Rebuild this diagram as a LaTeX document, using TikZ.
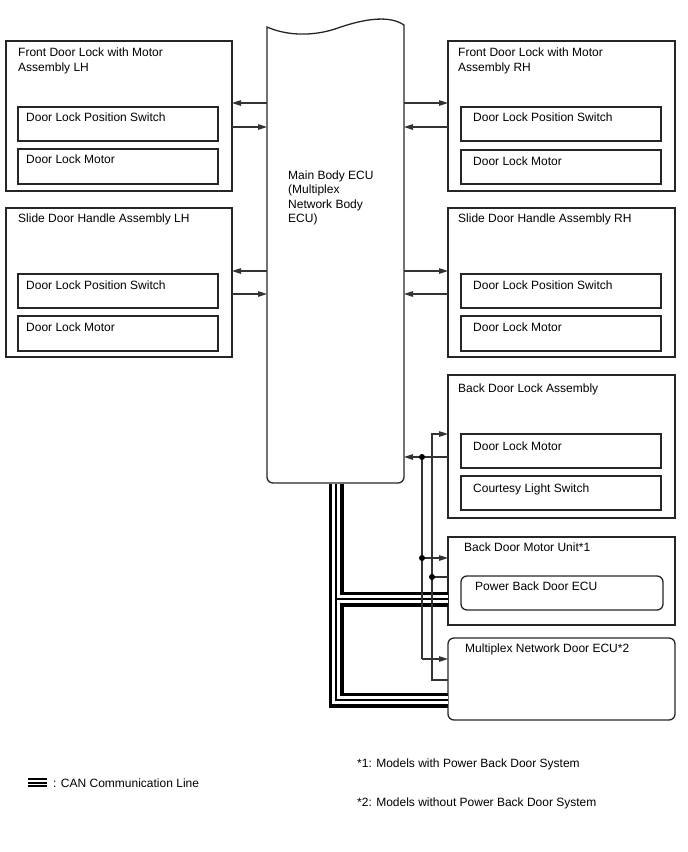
\documentclass[tikz,border=0pt]{standalone}
\usepackage{fontspec}
\setmainfont{Liberation Sans}
\usetikzlibrary{arrows.meta}
\begin{document}
\begin{tikzpicture}[x=1pt,y=-1pt,
  box/.style={draw=black!85, line width=1.3pt, anchor=north west, inner sep=0pt, outer sep=0pt},
  rbox/.style={box, rounded corners=6pt},
  lbl/.style={anchor=base west, inner sep=0pt, font=\fontsize{12}{14.5}\selectfont, align=left},
  sig/.style={draw=black!80, line width=1.1pt},
  arr/.style={sig, -{Triangle[length=9pt,width=5.5pt]}},
  ]
\useasboundingbox (0,0) rectangle (688,852);

% ---- boxes ----
\node[box, minimum width=226pt, minimum height=150pt] (fl) at (6,41) {};
\node[box, minimum width=200pt, minimum height=34pt] (fl1) at (18,107) {};
\node[box, minimum width=200pt, minimum height=35pt] (fl2) at (18,149) {};
\node[box, minimum width=226pt, minimum height=149pt] (sl) at (6,208) {};
\node[box, minimum width=200pt, minimum height=34pt] (sl1) at (18,274) {};
\node[box, minimum width=200pt, minimum height=35pt] (sl2) at (18,316) {};
\node[box, minimum width=227pt, minimum height=150pt] (fr) at (448,41) {};
\node[box, minimum width=200pt, minimum height=34pt] (fr1) at (461,107) {};
\node[box, minimum width=200pt, minimum height=34pt] (fr2) at (461,150) {};
\node[box, minimum width=227pt, minimum height=149pt] (sr) at (448,208) {};
\node[box, minimum width=200pt, minimum height=34pt] (sr1) at (461,274) {};
\node[box, minimum width=200pt, minimum height=35pt] (sr2) at (461,316) {};
\node[box, minimum width=227pt, minimum height=143pt] (bd) at (448,375) {};
\node[box, minimum width=200pt, minimum height=34pt] (bd1) at (461,434) {};
\node[box, minimum width=200pt, minimum height=34pt] (bd2) at (461,476) {};
\node[box, minimum width=227pt, minimum height=88pt] (mu) at (448,537) {};
\node[rbox, minimum width=202pt, minimum height=34pt] (mu1) at (461,576) {};
\node[rbox, minimum width=227pt, minimum height=82pt] (mx) at (448,638) {};

% ---- main ECU ----
\node[anchor=north west, inner sep=0pt, outer sep=0pt, minimum width=137pt, minimum height=456pt] (ecu) at (267,27) {};
\draw[draw=black!85, line width=1.3pt] (267,300) -- (267,27)
  .. controls (285,35) and (310,37) .. (335,29)
  .. controls (360,20) and (388,14) .. (404,25)
  -- (404,400) [rounded corners=6pt] -- (404,483) -- (267,483) -- (267,400) [sharp corners] -- cycle;

% ---- CAN lines ----
\coordinate (can0) at (336,484);
\coordinate (canb) at (336,599);
\coordinate (can1) at (336,700);
\foreach \w/\c in {15/black, 8/white, 2/black}{
  \draw[line width=\w pt, draw=\c] (can0) -- (can1) -- (mx.west|-can1) (canb) -- (mu.west|-canb);
}

% ---- signal lines ----
\draw[arr] (ecu.west|-0,103) -- (fl.east|-0,103);
\draw[arr] (fl.east|-0,127) -- (ecu.west|-0,127);
\draw[arr] (ecu.west|-0,271) -- (sl.east|-0,271);
\draw[arr] (sl.east|-0,294) -- (ecu.west|-0,294);
\draw[arr] (ecu.east|-0,103) -- (fr.west|-0,103);
\draw[arr] (fr.west|-0,127) -- (ecu.east|-0,127);
\draw[arr] (ecu.east|-0,271) -- (sr.west|-0,271);
\draw[arr] (sr.west|-0,294) -- (ecu.east|-0,294);

\coordinate (ja) at (422,457);
\coordinate (jb) at (422,558);
\coordinate (jc) at (422,659);
\coordinate (ka) at (432,434);
\coordinate (kb) at (432,577);
\coordinate (kc) at (432,680);
\draw[arr] (bd.west|-ja) -- (ecu.east|-ja);
\draw[sig] (ja) -- (jc);
\draw[arr] (jb) -- (mu.west|-jb);
\draw[arr] (jc) -- (mx.west|-jc);
\draw[arr] (mx.west|-kc) -- (kc) -- (ka) -- (bd.west|-ka);
\draw[sig] (mu.west|-kb) -- (kb);
\fill[black] (ja) circle (3pt) (jb) circle (3pt) (kb) circle (3pt);

% ---- labels ----
\node[lbl] (tfl) at (18,71) {Front Door Lock with Motor\\Assembly LH};
\node[lbl] (tfl1) at (26,121) {Door Lock Position Switch};
\node[lbl] (tfl2) at (26,163) {Door Lock Motor};
\node[lbl] (tsl) at (18,222) {Slide Door Handle Assembly LH};
\node[lbl] (tsl1) at (26,289) {Door Lock Position Switch};
\node[lbl] (tsl2) at (26,331) {Door Lock Motor};
\node[lbl] (tecu) at (288,222.5) {Main Body ECU\\(Multiplex\\Network Body\\ECU)};
\node[lbl] (tfr) at (458,71) {Front Door Lock with Motor\\Assembly RH};
\node[lbl] (tfr1) at (473,121) {Door Lock Position Switch};
\node[lbl] (tfr2) at (473,165) {Door Lock Motor};
\node[lbl] (tsr) at (458,222) {Slide Door Handle Assembly RH};
\node[lbl] (tsr1) at (473,289) {Door Lock Position Switch};
\node[lbl] (tsr2) at (473,331) {Door Lock Motor};
\node[lbl] (tbd) at (458,392) {Back Door Lock Assembly};
\node[lbl] (tbd1) at (473,450) {Door Lock Motor};
\node[lbl] (tbd2) at (473,492) {Courtesy Light Switch};
\node[lbl] (tmu) at (464,551) {Back Door Motor Unit*1};
\node[lbl] (tmu1) at (475,590) {Power Back Door ECU};
\node[lbl] (tmx) at (465,652) {Multiplex Network Door ECU*2};
\node[lbl] (tn1) at (357,767) {*1: Models with Power Back Door System};
\node[lbl] (tn2) at (357,806) {*2: Models without Power Back Door System};

% ---- legend ----
\coordinate (lg) at (28,779);
\draw[line width=2pt] (lg) -- ++(19,0) (28,782.5) -- ++(19,0) (28,786) -- ++(19,0);
\node[lbl] (tlg) at (53,787) {: CAN Communication Line};
\end{tikzpicture}
\end{document}
